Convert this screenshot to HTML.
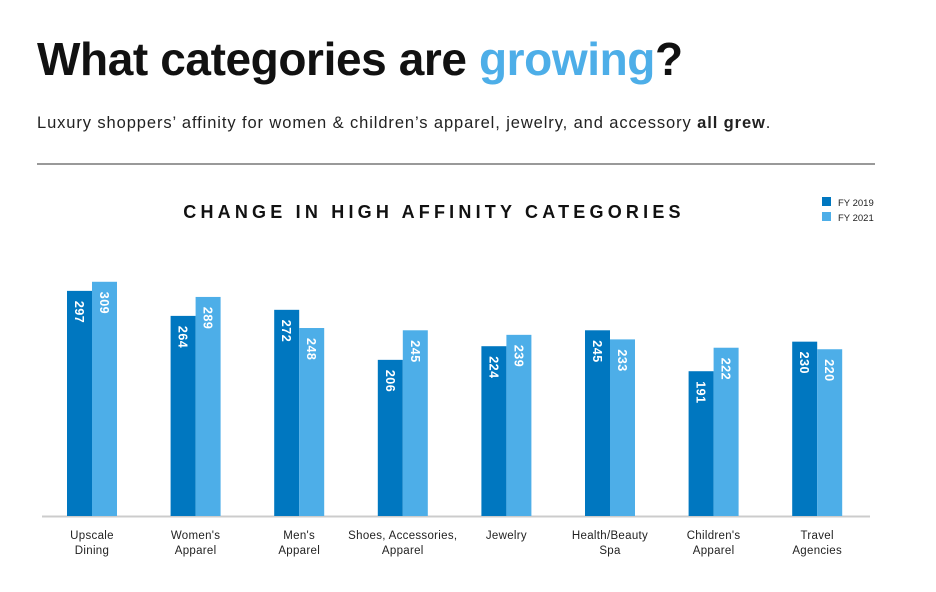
<!DOCTYPE html>
<html><head><meta charset="utf-8"><style>
body{margin:0;width:936px;height:592px;background:#fff;font-family:"Liberation Sans",sans-serif;position:relative;overflow:hidden}
#t{position:absolute;left:37px;top:32px;font-size:46px;font-weight:bold;color:#111;margin:0;letter-spacing:-0.4px}
#t span{color:#4daee8}
#s{position:absolute;left:37px;top:114px;font-size:16.5px;color:#222;letter-spacing:0.9px}
#rule{position:absolute;left:37px;top:163px;width:838px;height:2px;background:#999}
</style></head><body>
<h1 id="t">What categories are <span>growing</span>?</h1>
<div id="s">Luxury shoppers’ affinity for women &amp; children’s apparel, jewelry, and accessory <b>all grew</b>.</div>
<div id="rule"></div>
<svg id="c" width="936" height="592" style="position:absolute;left:0;top:0">
<text x="434" y="218" text-anchor="middle" font-size="18" font-weight="bold" letter-spacing="4.2" fill="#111">CHANGE IN HIGH AFFINITY CATEGORIES</text>
<g>
<rect x="822" y="197" width="9" height="9" fill="#0077c0"/>
<text x="838" y="206" font-size="9.5" fill="#222">FY 2019</text>
<rect x="822" y="212" width="9" height="9" fill="#4daee8"/>
<text x="838" y="221" font-size="9.5" fill="#222">FY 2021</text>
</g>
<line x1="42" y1="516.5" x2="870" y2="516.5" stroke="#ccc" stroke-width="2"/>
<g id="bars"></g>
</svg>
<script>
const categories=[["Upscale","Dining"],["Women's","Apparel"],["Men's","Apparel"],["Shoes, Accessories,","Apparel"],["Jewelry"],["Health/Beauty","Spa"],["Children's","Apparel"],["Travel","Agencies"]];
const fy2019=[297,264,272,206,224,245,191,230];
const fy2021=[309,289,248,245,239,233,222,220];
const ns="http://www.w3.org/2000/svg";
const g=document.getElementById('bars');
const base=516, k=0.758, x0=92, step=103.6, bw=25;
const y=v=>base-v*k;
const cx=i=>x0+i*step;
function mk(tag,attrs){const e=document.createElementNS(ns,tag);for(const a in attrs)e.setAttribute(a,attrs[a]);return e;}
categories.forEach((c,i)=>{
  [[fy2019,'#0077c0',-bw,'2019'],[fy2021,'#4daee8',0,'2021']].forEach(([arr,col,off,yr])=>{
    const v=arr[i], bx=cx(i)+off;
    const r=mk('rect',{x:bx,y:y(v),width:bw,height:base-y(v),fill:col});
    
    
    g.appendChild(r);
    const tx=bx+bw/2-4.5, ty=y(v)+10;
    const t=mk('text',{x:tx,y:ty,transform:`rotate(90 ${tx} ${ty})`,'font-size':'12.5','font-weight':'bold',fill:'#fff','letter-spacing':'0.5'});
    t.textContent=v;
    
    
    g.appendChild(t);
  });
  c.forEach((ln,j)=>{
    const t=mk('text',{x:cx(i),y:539+j*15,'text-anchor':'middle','font-size':'11.5',fill:'#222','letter-spacing':'0.3'});
    t.textContent=ln;
    
    
    g.appendChild(t);
  });
});
</script>
</body></html>
